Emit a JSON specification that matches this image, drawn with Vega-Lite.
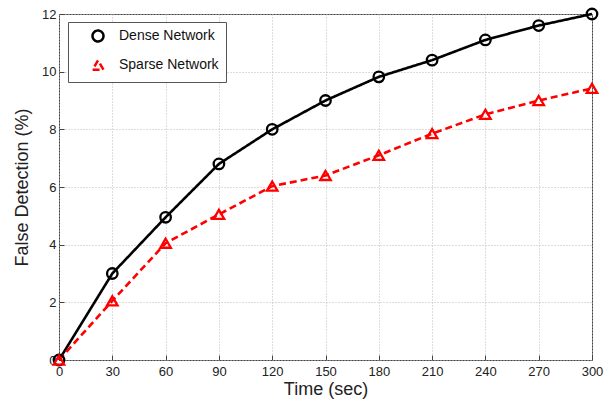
{
  "$schema": "https://vega.github.io/schema/vega-lite/v6.json",
  "width": 533,
  "height": 346,
  "autosize": {"type": "none"},
  "padding": {"left": 59, "top": 14, "right": 12, "bottom": 44},
  "background": "white",
  "config": {
    "font": "Liberation Sans",
    "view": {"stroke": "#444", "strokeWidth": 1},
    "axis": {
      "domain": false,
      "grid": true,
      "gridColor": "#bbb",
      "gridDash": [1, 2],
      "gridWidth": 1,
      "tickColor": "#444",
      "tickSize": -5,
      "labelFont": "Liberation Sans",
      "labelFontSize": 13,
      "labelColor": "#222",
      "titleFont": "Liberation Sans",
      "titleFontSize": 18,
      "titleFontWeight": "normal",
      "titleColor": "#222"
    }
  },
  "data": {
    "values": [
      {"t": 0, "v": 0, "s": "Dense Network"},
      {"t": 30, "v": 3, "s": "Dense Network"},
      {"t": 60, "v": 4.95, "s": "Dense Network"},
      {"t": 90, "v": 6.8, "s": "Dense Network"},
      {"t": 120, "v": 8, "s": "Dense Network"},
      {"t": 150, "v": 9, "s": "Dense Network"},
      {"t": 180, "v": 9.82, "s": "Dense Network"},
      {"t": 210, "v": 10.4, "s": "Dense Network"},
      {"t": 240, "v": 11.1, "s": "Dense Network"},
      {"t": 270, "v": 11.6, "s": "Dense Network"},
      {"t": 300, "v": 12, "s": "Dense Network"},
      {"t": 0, "v": 0, "s": "Sparse Network"},
      {"t": 30, "v": 2.05, "s": "Sparse Network"},
      {"t": 60, "v": 4.05, "s": "Sparse Network"},
      {"t": 90, "v": 5.05, "s": "Sparse Network"},
      {"t": 120, "v": 6.03, "s": "Sparse Network"},
      {"t": 150, "v": 6.4, "s": "Sparse Network"},
      {"t": 180, "v": 7.1, "s": "Sparse Network"},
      {"t": 210, "v": 7.85, "s": "Sparse Network"},
      {"t": 240, "v": 8.52, "s": "Sparse Network"},
      {"t": 270, "v": 9.0, "s": "Sparse Network"},
      {"t": 300, "v": 9.42, "s": "Sparse Network"}
    ]
  },
  "layer": [
    {
      "mark": {"type": "line", "strokeWidth": 2.6},
      "encoding": {
        "x": {
          "field": "t", "type": "quantitative",
          "scale": {"domain": [0, 300], "nice": false},
          "axis": {"values": [0,30,60,90,120,150,180,210,240,270,300], "title": "Time (sec)", "labelPadding": 10, "titlePadding": 2, "labelFlush": false}
        },
        "y": {
          "field": "v", "type": "quantitative",
          "scale": {"domain": [0, 12], "nice": false},
          "axis": {"values": [0,2,4,6,8,10,12], "title": "False Detection (%)", "labelPadding": 8, "titlePadding": 10}
        },
        "color": {
          "field": "s", "type": "nominal",
          "scale": {"domain": ["Dense Network", "Sparse Network"], "range": ["#000000", "#ff0000"]},
          "legend": {
            "title": null,
            "orient": "none",
            "legendX": 9,
            "legendY": 8,
            "strokeColor": "#555",
            "fillColor": "white",
            "padding": 7,
            "labelFontSize": 14,
            "labelColor": "#111",
            "labelFont": "Liberation Sans",
            "symbolSize": 120,
            "symbolStrokeWidth": 2.5,
            "symbolFillColor": "transparent",
            "symbolOffset": 16,
            "rowPadding": 8,
            "labelOffset": 14
          }
        },
        "strokeDash": {
          "field": "s", "type": "nominal",
          "scale": {"domain": ["Dense Network", "Sparse Network"], "range": [[1, 0], [7, 4]]},
          "legend": null
        }
      }
    },
    {
      "mark": {"type": "point", "filled": false, "size": 110, "strokeWidth": 2.3, "opacity": 1},
      "encoding": {
        "x": {"field": "t", "type": "quantitative"},
        "y": {"field": "v", "type": "quantitative"},
        "color": {"field": "s", "type": "nominal", "legend": null},
        "shape": {
          "field": "s", "type": "nominal",
          "scale": {"domain": ["Dense Network", "Sparse Network"], "range": ["circle", "triangle-up"]},
          "legend": null
        }
      }
    }
  ]
}
